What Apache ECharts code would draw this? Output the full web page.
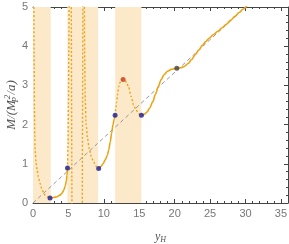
<!DOCTYPE html>
<html><head><meta charset="utf-8">
<script src="https://cdn.jsdelivr.net/npm/echarts@6/dist/echarts.min.js"></script>
<style>html,body{margin:0;padding:0;background:#fff}#c{width:289px;height:244px}</style>
</head><body><div id="c"></div>
<script>
// shaded bands on y_H
const bands = [[0, 2.5], [4.85, 9.2], [11.6, 15.3]];
// solid curve pieces
const solid1 = [[2.4,0.13],[2.9,0.14],[3.4,0.16],[3.8,0.2],[4.1,0.25],[4.35,0.33],[4.55,0.43],[4.7,0.56],[4.8,0.7],[4.87,0.89]];
const solid2 = [[9.27,0.88],[9.6,0.93],[9.9,1.0],[10.2,1.1],[10.5,1.22],[10.7,1.36],[10.9,1.55],[11.1,1.78],[11.3,2.0],[11.45,2.13],[11.59,2.24]];
const solid3 = [[15.3,2.24],[15.7,2.26],[16.1,2.32],[16.5,2.43],[16.9,2.58],[17.3,2.78],[17.7,2.98],[18.1,3.15],[18.5,3.27],[19.0,3.36],[19.5,3.41],[20.3,3.44],[20.9,3.45],[21.4,3.49],[21.9,3.56],[22.4,3.66],[22.9,3.78],[23.4,3.9],[23.9,4.02],[24.4,4.12],[24.9,4.21],[25.5,4.3],[26.1,4.38],[26.7,4.47],[27.3,4.56],[27.9,4.66],[28.5,4.76],[29.1,4.86],[29.7,4.95],[30.2,5.04]];
// dotted curve pieces
const dot1 = [[0.12,5.3],[0.16,3.5],[0.2,2.4],[0.25,1.7],[0.3,1.35],[0.45,1.0],[0.6,0.82],[0.75,0.67],[1.0,0.5],[1.23,0.37],[1.5,0.27],[1.7,0.2],[2.0,0.16],[2.4,0.13]];
const dot2 = [[4.87,0.89],[4.95,1.5],[5.0,2.5],[5.05,3.8],[5.1,5.3]];
const dot3 = [[5.4,5.3],[5.5,-0.3]];
const dot4 = [[6.95,-0.3],[7.05,5.3]];
const dot5 = [[7.25,5.3],[7.3,3.6],[7.38,2.6],[7.5,2.0],[7.7,1.64],[7.95,1.38],[8.2,1.2],[8.55,1.05],[8.9,0.94],[9.27,0.88]];
const dot6 = [[11.59,2.24],[11.7,2.42],[11.8,2.58],[11.95,2.78],[12.1,2.97],[12.3,3.08],[12.5,3.13],[12.72,3.15],[12.95,3.13],[13.2,3.08],[13.5,2.95],[13.85,2.72],[14.2,2.5],[14.5,2.4],[14.8,2.31],[15.05,2.26],[15.3,2.24]];
// reference line M = y_H / 6
const diag = [[0,0],[36,6]];
// marked points
const bluePts = [[2.4,0.13],[4.87,0.89],[9.27,0.88],[11.59,2.24],[15.3,2.24]];
const redPts = [[12.72,3.15]];
const grayPts = [[20.3,3.44]];

const orange = 'rgb(236,164,22)';
const axisCol = '#444';
const labCol = '#777';
function xAx(pos, show){
  return {type:'value', position:pos, min:0, max:36, interval:5,
    axisLine:{show:true, onZero:false, lineStyle:{color:axisCol, width:1}},
    axisTick:{show:true, inside:true, length:4, lineStyle:{color:axisCol}},
    minorTick:{show:true, splitNumber:5, length:2, lineStyle:{color:axisCol}},
    splitLine:{show:false},
    axisLabel:{show:show, color:labCol, fontSize:11, fontFamily:'Liberation Sans', margin:5,
      formatter:v=> (v%5===0 && v<=35) ? String(v) : ''},
  };
}
function yAx(pos, show){
  return {type:'value', position:pos, min:0, max:5, interval:1,
    axisLine:{show:true, onZero:false, lineStyle:{color:axisCol, width:1}},
    axisTick:{show:true, inside:true, length:4, lineStyle:{color:axisCol}},
    minorTick:{show:true, splitNumber:5, length:2, lineStyle:{color:axisCol}},
    splitLine:{show:false},
    axisLabel:{show:show, color:labCol, fontSize:11, fontFamily:'Liberation Sans', margin:5},
  };
}
const xb = xAx('bottom', true);
xb.name = 'y{s|H}';
xb.nameLocation = 'middle';
xb.nameGap = 27;
xb.nameMoveOverlap = false;
xb.nameTextStyle = {fontFamily:'Liberation Serif', fontStyle:'italic', fontSize:12, color:'#555',
  rich:{s:{fontFamily:'Liberation Serif', fontStyle:'italic', fontSize:8, color:'#555', verticalAlign:'bottom', lineHeight:14}}};
const yl = yAx('left', true);
yl.name = '{a|M/(M}{p|P}{s|2}{a|/a)}';
yl.nameLocation = 'middle';
yl.nameGap = 13;
yl.nameMoveOverlap = false;
const it = {fontFamily:'Liberation Serif', fontStyle:'italic', color:'#555'};
yl.nameTextStyle = Object.assign({}, it, {fontSize:13, rich:{
  a:Object.assign({}, it, {fontSize:13, lineHeight:17}),
  p:Object.assign({}, it, {fontSize:9, width:1, verticalAlign:'bottom', lineHeight:17}),
  s:Object.assign({}, it, {fontSize:9, verticalAlign:'top', lineHeight:17})
}});

function line(d, dotted){
  return {type:'line', data:d, xAxisIndex:0, yAxisIndex:0, showSymbol:false, symbol:'none',
    smooth:0.3, smoothMonotone:'x', clip:true, z:3,
    lineStyle:{color:orange, width: dotted?1.4:1.6, type: dotted?[2,2]:'solid'}};
}
const series = [
  {type:'line', data:diag, showSymbol:false, symbol:'none', clip:true, z:2,
   lineStyle:{color:'#999', width:1, type:[4,3]},
   markArea:{silent:true, itemStyle:{color:'rgba(251,233,201,1)'},
     data: bands.map(b=>[{xAxis:b[0]},{xAxis:b[1]}])}},
  line(solid1,false), line(solid2,false), line(solid3,false),
  line(dot1,true), line(dot2,true), line(dot3,true), line(dot4,true), line(dot5,true), line(dot6,true),
  {type:'scatter', data:bluePts, symbolSize:5, z:5, itemStyle:{color:'rgb(28,28,150)'}},
  {type:'scatter', data:redPts, symbolSize:5, z:5, itemStyle:{color:'rgb(200,60,30)'}},
  {type:'scatter', data:grayPts, symbolSize:5, z:5, itemStyle:{color:'#444'}}
];
const chart = echarts.init(document.getElementById('c'), null, {renderer:'canvas'});
chart.setOption({
  animation:false,
  grid:{left:33, right:1, top:7, bottom:41, containLabel:false, outerBoundsMode:'none'},
  xAxis:[xb, xAx('top', false)],
  yAxis:[yl, yAx('right', false)],
  series: series
});
</script></body></html>
